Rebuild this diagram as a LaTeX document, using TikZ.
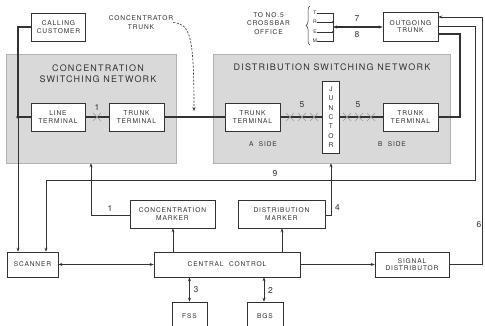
\documentclass[tikz,border=0pt]{standalone}
\usepackage{fontspec}
\setmainfont{TeX Gyre Heros}[LetterSpace=13]
\usetikzlibrary{arrows.meta,decorations.pathreplacing}
\definecolor{linec}{HTML}{333333}
\definecolor{textc}{HTML}{333333}
\definecolor{netgrey}{HTML}{D9D9D9}
\begin{document}
\begin{tikzpicture}[x=1pt,y=-1pt,
  box/.style 2 args={draw=linec, line width=0.6pt, fill=white, inner sep=0pt, align=center,
     font=\fontsize{6.6}{7.8}\selectfont, text=textc, minimum width=#1pt, minimum height=#2pt},
  net/.style 2 args={draw=gray!60, line width=0.5pt, fill=netgrey, inner sep=0pt, minimum width=#1pt, minimum height=#2pt},
  title/.style={font=\fontsize{9}{11}\selectfont, text=textc, align=center, inner sep=0pt},
  lbl/.style={font=\fontsize{6.6}{8.2}\selectfont, text=textc, align=center, inner sep=0pt},
  num/.style={font=\fontsize{8.5}{9}\selectfont, text=textc, inner sep=0pt},
  tiny/.style={font=\fontsize{5}{5.5}\selectfont, text=textc, inner sep=0pt},
  thinl/.style={draw=linec, line width=0.65pt},
  thickl/.style={draw=linec, line width=2pt},
  tip/.style={-{Stealth[length=4pt,width=3pt]}},
  tips/.style={{Stealth[length=4pt,width=3pt]}-{Stealth[length=4pt,width=3pt]}},
  crossl/.style={draw=gray!80, line width=0.5pt}
]
\useasboundingbox (0,0) rectangle (485,326);
\fill[white] (0,0) rectangle (485,326);

% networks
\node[net={170}{109}] (cnet) at (91,108.5) {};
\node[net={237}{109}] (dnet) at (331.5,108.5) {};
\node[title] (ctitle) at (98,74) {CONCENTRATION\\SWITCHING NETWORK};
\node[title] (dtitle) at (332,67.5) {DISTRIBUTION SWITCHING NETWORK};

% boxes
\node[box={54}{28}] (cust) at (58.5,27) {CALLING\\CUSTOMER};
\node[box={54}{28}] (lt) at (58,117) {LINE\\TERMINAL};
\node[box={55}{28}] (tt1) at (136.5,117) {TRUNK\\TERMINAL};
\node[box={55}{28}] (tta) at (252.5,117) {TRUNK\\TERMINAL};
\node[box={17}{72}, font=\fontsize{6.6}{9.3}\selectfont] (junc) at (331,117) {J\\U\\N\\C\\T\\O\\R};
\node[box={55}{28}] (ttb) at (410.5,117) {TRUNK\\TERMINAL};
\node[box={55}{29}] (ot) at (410.5,26.5) {OUTGOING\\TRUNK};
\node[box={85}{28}] (cm) at (172.5,214) {CONCENTRATION\\MARKER};
\node[box={87}{28}] (dm) at (281.5,214) {DISTRIBUTION\\MARKER};
\node[box={146}{25}] (cc) at (227,264.5) {CENTRAL~~CONTROL};
\node[box={51}{25}] (sc) at (32.5,264.5) {SCANNER};
\node[box={74}{25}] (sd) at (412,264.5) {SIGNAL\\DISTRIBUTOR};
\node[box={35}{28}] (fss) at (189.5,316) {FSS};
\node[box={36}{28}] (bgs) at (265,316) {BGS};

% side labels
\node[lbl] (aside) at (263,144.5) {A~~SIDE};
\node[lbl] (bside) at (392,144.5) {B~~SIDE};

% concentrator trunk
\node[lbl] (ctl) at (141,22.5) {CONCENTRATOR\\TRUNK};
\draw[thinl, dashed, dash pattern=on 2pt off 1.5pt, tip] (ctl.east) .. controls (190,24) and (194,35) .. (194,111);

% to no.5 crossbar
\node[lbl] (xbar) at (268.5,23.5) {TO NO.5\\CROSSBAR\\OFFICE};
\draw[draw=linec, line width=0.5pt, decorate, decoration={brace, amplitude=4pt}] (310,45) -- (310,6);
\node[tiny] (tT) at (315,13) {T};
\node[tiny] (tR) at (315,22) {R};
\node[tiny] (tE) at (315,32) {E};
\node[tiny] (tM) at (315,41) {M};
\coordinate (vT) at (333,13);
\coordinate (vM) at (333,41);
\draw[thinl] (tT.east) -- (vT) -- (vM) -- (tM.east);
\draw[thinl] (tR.east) -- (333,22);
\draw[thinl] (tE.east) -- (333,32);
\fill[linec] (333,22) circle (1.2pt) (333,32) circle (1.2pt);
\coordinate (trem) at (333,27);
\draw[draw=linec, line width=1.1pt, tips] (trem) -- (trem -| ot.west);
\node[num] (n7) at (357,19) {7};
\node[num] (n8) at (357,35) {8};

% calling customer to line terminal and scanner
\draw[thickl] (cust.west) -| (18,117) coordinate (dot) -- (lt.west);
\fill[linec] (dot) circle (1.8pt);
\draw[thinl, tip] (dot) -- (dot |- sc.north);

% trunk paths
\draw[thickl] (lt.east) -- (tt1.west);
\draw[thickl] (tt1.east) -- (tta.west);
\draw[thickl] (tta.east) -- (junc.west |- tta.east);
\draw[thickl] (junc.east |- ttb.west) -- (ttb.west);
\draw[thickl] ([yshift=-7.5pt]ot.east) -| (460,117) -- (ttb.east);

% crosses
\foreach \cx in {97,290,302,314,347,359,371}
  \draw[crossl] (\cx-4,113) -- (\cx+4,121) (\cx-4,121) -- (\cx+4,113);
\node[num] (n1a) at (97,107) {1};
\node[num] (n5a) at (302,105) {5};
\node[num] (n5b) at (358,105) {5};

% markers
\draw[thinl, tip] (cm.west |- 0,215) -| (91,0 |- cnet.south);
\node[num] (n1b) at (110,208.5) {1};
\draw[thinl, tip] (dm.east |- 0,215) -| (331,0 |- dnet.south);
\node[num] (n4) at (337.5,207.5) {4};
\draw[thinl, tip] (173,0 |- cc.north) -- (173,0 |- cm.south);
\draw[thinl, tip] (282,0 |- cc.north) -- (282,0 |- dm.south);

% central control links
\draw[thinl, tips] (sc.east) -- (cc.west);
\draw[thinl, tip] (cc.east) -- (sd.west);
\draw[thinl, tips] (189.5,0 |- cc.south) -- (189.5,0 |- fss.north);
\node[num] (n3) at (196,290) {3};
\draw[thinl, tips] (264,0 |- cc.south) -- (264,0 |- bgs.north);
\node[num] (n2) at (270.5,290) {2};

% line 9
\draw[thinl, tip] (ot.east) -| (475,180) -| (46,0 |- sc.north);
\node[num] (n9) at (275,173.5) {9};

% line 6
\draw[thinl, tip] (sd.east) -| (482,17) -- ([yshift=9.5pt]ot.east);
\node[num] (n6) at (479,225) {6};
\end{tikzpicture}
\end{document}
